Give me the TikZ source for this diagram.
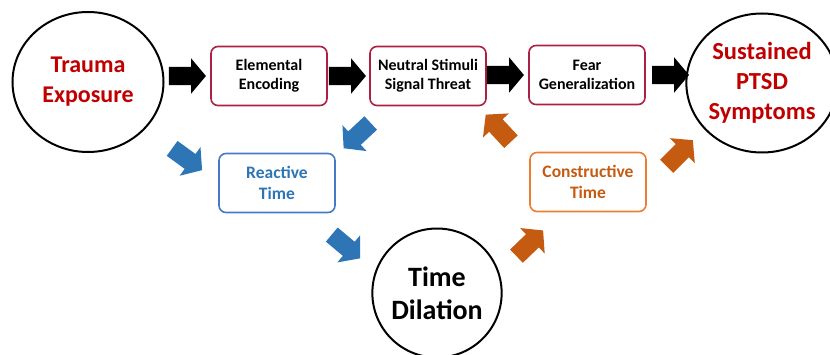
\documentclass[tikz,border=0pt]{standalone}
\usepackage{fontspec}
\setmainfont{Carlito}
\usepackage{xcolor}
\usepackage{tikz}
\usetikzlibrary{shapes.geometric}
\usetikzlibrary{shapes.arrows}
\usetikzlibrary{positioning}
\definecolor{ptsdred}{HTML}{C00000}
\definecolor{boxred}{RGB}{172,32,66}
\definecolor{reactblue}{HTML}{2E75B6}
\definecolor{reactline}{RGB}{70,122,200}
\definecolor{constorange}{HTML}{C55A11}
\definecolor{constline}{HTML}{ED7D31}
\tikzset{
	main node/.style={ellipse,draw,line width=2pt,inner sep=0pt,align=center,font=\bfseries},
	stage/.style={rectangle,draw=boxred,rounded corners=7pt,line width=1.6pt,
		minimum width=116pt,minimum height=59pt,align=center,font=\bfseries\fontsize{16}{19}\selectfont},
	timebox/.style={stage,font=\bfseries\fontsize{17.5}{21}\selectfont},
	blockarrow/.style={single arrow,draw=none,inner sep=0pt,inner ysep=9pt,
		minimum height=37pt,single arrow head extend=8.5pt,single arrow tip angle=100}
}

\begin{document}
\begin{tikzpicture}[x=1pt,y=1pt]
	\useasboundingbox (0,0) rectangle (830,354);
	\node [main node,minimum width=151pt,minimum height=140pt,text=ptsdred,
		font=\bfseries\fontsize{24}{30}\selectfont] (1) at (88,272) {Trauma\\Exposure};
	\node [stage] (2) at (269,278) {Elemental\\Encoding};
	\node [stage] (3) at (428,278) {Neutral Stimuli\\Signal Threat};
	\node [stage] (4) at (587,279) {Fear\\Generalization};
	\node [main node,minimum size=139pt,text=ptsdred,
		font=\bfseries\fontsize{24.5}{30}\selectfont] (5) at (762,271) {Sustained\\PTSD\\Symptoms};
	\node [timebox,draw=reactline,text=reactblue] (6) at (277,171) {Reactive\\Time};
	\node [timebox,draw=constline,text=constorange] (7) at (588,172) {Constructive\\Time};
	\node [main node,minimum size=129pt,
		font=\bfseries\fontsize{28}{33}\selectfont] (8) at (437,61) {Time\\Dilation};

	\node [blockarrow,fill=black,left=4pt of 2] (a1) {};
	\node [blockarrow,fill=black,left=3pt of 3] (a2) {};
	\node [blockarrow,fill=black,left=4pt of 4] (a3) {};
	\node [blockarrow,fill=black,right=6pt of 4] (a4) {};

	\node [blockarrow,fill=reactblue,rotate=-36] (b1) at (184,197) {};
	\node [blockarrow,fill=reactblue,rotate=-137] (b2) at (360,221) {};
	\node [blockarrow,fill=reactblue,rotate=-40] (b3) at (343,110) {};

	\node [blockarrow,fill=constorange,rotate=44] (c1) at (527,108) {};
	\node [blockarrow,fill=constorange,rotate=45] (c2) at (677,198) {};
	\node [blockarrow,fill=constorange,rotate=133] (c3) at (501,223) {};
\end{tikzpicture}
\end{document}
